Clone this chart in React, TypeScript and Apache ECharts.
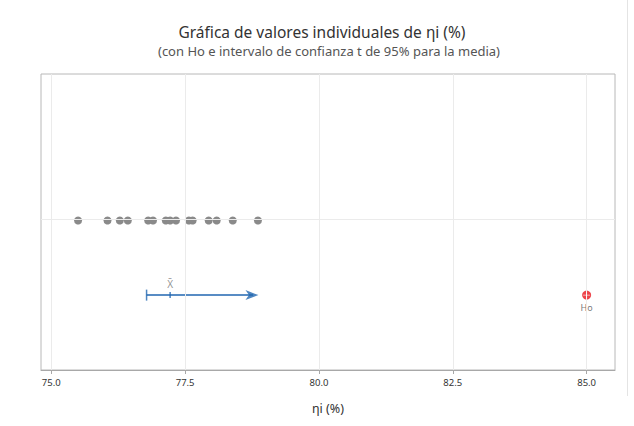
import React, { useEffect, useRef } from "react";
import * as echarts from "echarts";

const TITLE = "Gráfica de valores individuales de ηi (%)";
const SUBTITLE = "(con Ho e intervalo de confianza t de 95% para la media)";
const X_NAME = "ηi (%)";
const X_TICKS = [75.0, 77.5, 80.0, 82.5, 85.0];
const VALUES = [75.5, 76.05, 76.28, 76.43, 76.81, 76.9, 77.14, 77.22, 77.33, 77.57, 77.64, 77.94, 78.09, 78.39, 78.86];
const MEAN = [77.22];
const CI_LOW = [76.78];
const CI_ARROW_END = [78.87];
const HO = [85.0];

const ROW_DOTS = 0.505;
const ROW_CI = 0.253;

export default function App() {
  const ref = useRef<HTMLDivElement>(null);
  useEffect(() => {
    document.body.style.margin = "0";
    const chart = echarts.init(ref.current!, null, { renderer: "svg" });
    const font = "'Noto Sans', 'Open Sans', sans-serif";
    const blue = "#2166b0";
    chart.setOption({
      animation: false,
      backgroundColor: "#ffffff",
      textStyle: { fontFamily: font },
      graphic: [
        { type: "text", x: 322, y: 32, style: { text: TITLE, fill: "#333333", font: `15.5px ${font}`, textAlign: "center", textVerticalAlign: "middle" } },
        { type: "text", x: 329, y: 51, style: { text: SUBTITLE, fill: "#555555", font: `13px ${font}`, textAlign: "center", textVerticalAlign: "middle" } },
        { type: "line", shape: { x1: 627.5, y1: 0, x2: 627.5, y2: 396 }, style: { stroke: "#e4e4e4", lineWidth: 1 } },
      ],
      grid: { left: 41, right: 19, top: 74, bottom: 56, show: true, borderColor: "#b8b8b8", borderWidth: 1 },
      xAxis: {
        type: "value",
        min: 74.808,
        max: 85.53,
        name: X_NAME,
        nameLocation: "middle",
        nameGap: 32,
        nameTextStyle: { fontSize: 12.5, color: "#333333", fontFamily: font },
        axisLine: { show: true, lineStyle: { color: "#a8a8a8" } },
        axisTick: { show: true, customValues: X_TICKS, length: 4, lineStyle: { color: "#a8a8a8" } },
        axisLabel: {
          customValues: X_TICKS,
          formatter: (v: number) => v.toFixed(1),
          fontSize: 9.5,
          color: "#333333",
          margin: 7,
          fontFamily: font,
        },
        splitLine: { show: false },
      },
      yAxis: { type: "value", min: 0, max: 1, show: false, splitLine: { show: false } },
      series: [
        {
          type: "scatter",
          data: [],
          silent: true,
          markLine: {
            silent: true,
            symbol: "none",
            label: { show: false },
            lineStyle: { color: "#ebebeb", width: 1, type: "solid" },
            data: [...X_TICKS.map((t) => ({ xAxis: t })), { yAxis: ROW_DOTS }],
          },
          z: 1,
        },
        {
          type: "scatter",
          data: VALUES.map((v) => [v, ROW_DOTS]),
          symbol: "circle",
          symbolSize: 8,
          itemStyle: { color: "#8a8a8a", opacity: 1 },
          z: 3,
        },
        {
          type: "line",
          data: [
            [CI_LOW[0], ROW_CI],
            [CI_ARROW_END[0] - 0.1, ROW_CI],
          ],
          showSymbol: false,
          symbol: "none",
          lineStyle: { color: blue, width: 1.5 },
          silent: true,
          z: 3,
        },
        {
          type: "scatter",
          data: CI_ARROW_END.map((v) => [v, ROW_CI]),
          symbol: "path://M0 0L13 5L0 10L3.5 5Z",
          symbolSize: [13, 10],
          symbolOffset: [-6.5, 0],
          itemStyle: { color: blue },
          silent: true,
          z: 4,
        },
        {
          type: "scatter",
          data: CI_LOW.map((v) => [v, ROW_CI]),
          symbol: "rect",
          symbolSize: [1.5, 11],
          itemStyle: { color: blue },
          z: 4,
        },
        {
          type: "scatter",
          data: MEAN.map((v) => [v, ROW_CI]),
          symbol: "rect",
          symbolSize: [1.5, 6],
          itemStyle: { color: blue },
          label: {
            show: true,
            position: "top",
            distance: 3,
            formatter: "X̄",
            fontSize: 10,
            color: "#777777",
            fontFamily: font,
          },
          z: 4,
        },
        {
          type: "scatter",
          data: HO.map((v) => [v, ROW_CI]),
          symbol: "circle",
          symbolSize: 9,
          itemStyle: { color: "#e8141c" },
          label: { show: true, position: "bottom", distance: 3, formatter: "Ho", fontSize: 9, color: "#555555", fontFamily: font },
          z: 4,
        },
        {
          type: "scatter",
          data: HO.map((v) => [v, ROW_CI]),
          symbol: "path://M4.4 0h1.2v4.4h4.4v1.2h-4.4v4.4h-1.2v-4.4h-4.4v-1.2h4.4z",
          symbolSize: 7,
          itemStyle: { color: "#ffffff" },
          silent: true,
          z: 5,
        },
      ],
    });
    return () => chart.dispose();
  }, []);
  return <div ref={ref} style={{ width: 634, height: 426 }} />;
}
